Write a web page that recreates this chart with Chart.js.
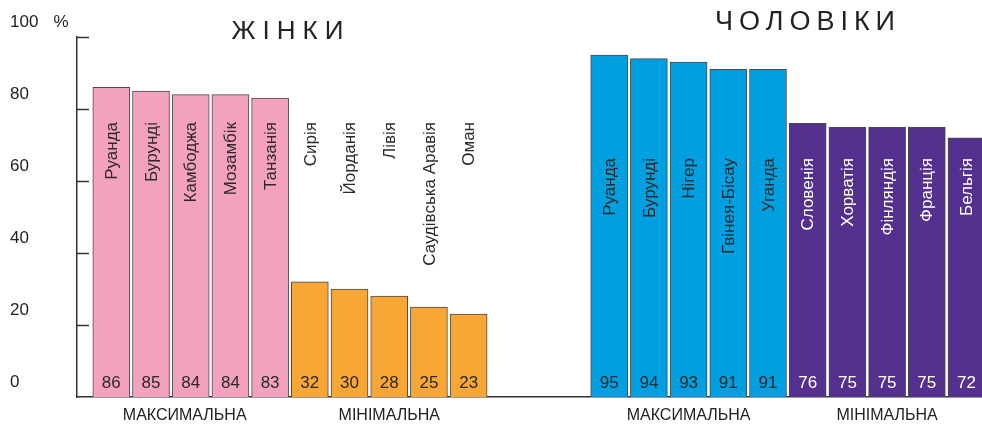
<!DOCTYPE html>
<html>
<head>
<meta charset="utf-8">
<script src="https://cdn.jsdelivr.net/npm/chart.js@4.4.1/dist/chart.umd.min.js"></script>
<style>
  body { margin: 0; background: #fff; }
  #wrap { width: 982px; height: 427px; position: relative; }
</style>
</head>
<body>
<div id="wrap"><canvas id="chart"></canvas></div>
<script>
// data (% )
const womenMaxCountries = ["Руанда", "Бурунді", "Камбоджа", "Мозамбік", "Танзанія"];
const womenMaxValues = [86, 85, 84, 84, 83];
const womenMinCountries = ["Сирія", "Йорданія", "Лівія", "Саудівська Аравія", "Оман"];
const womenMinValues = [32, 30, 28, 25, 23];
const menMaxCountries = ["Руанда", "Бурунді", "Нігер", "Гвінея-Бісау", "Уганда"];
const menMaxValues = [95, 94, 93, 91, 91];
const menMinCountries = ["Словенія", "Хорватія", "Фінляндія", "Франція", "Бельгія"];
const menMinValues = [76, 75, 75, 75, 72];
const yTickValues = [0, 20, 40, 60, 80, 100];
const groupLabels = ["МАКСИМАЛЬНА", "МІНІМАЛЬНА"];
const sexTitles = ["ЖІНКИ", "ЧОЛОВІКИ"];

const FONT = "'Liberation Sans', Arial, sans-serif";
const MEN_START = 12.54; // slot where men's bars begin

function points(values, start) {
    return values.map((v, i) => ({ x: start + i, y: v }));
}

const datasets = [
    { names: womenMaxCountries, data: points(womenMaxValues, 0), backgroundColor: "#f4a1bf", textColor: "#2a2a2a" },
    { names: womenMinCountries, data: points(womenMinValues, 5), backgroundColor: "#f8a636", textColor: "#2a2a2a" },
    { names: menMaxCountries, data: points(menMaxValues, MEN_START), backgroundColor: "#009fdf", textColor: "#2a2a2a" },
    { names: menMinCountries, data: points(menMinValues, MEN_START + 5), backgroundColor: "#54318f", textColor: "#ffffff" },
].map((d) => ({ ...d, borderColor: "#4a4a4a", borderWidth: 1, barThickness: 37, grouped: false }));

const labelsPlugin = {
    id: "labels",
    afterDraw(chart) {
        const ctx = chart.ctx;
        const y = chart.scales.y;
        ctx.save();

        // inward tick marks on the y axis
        ctx.strokeStyle = "#333";
        ctx.lineWidth = 1.5;
        yTickValues.slice(1).forEach((v) => {
            const py = Math.round(y.getPixelForValue(v)) + 0.5;
            ctx.beginPath();
            ctx.moveTo(chart.chartArea.left, py);
            ctx.lineTo(chart.chartArea.left + 12, py);
            ctx.stroke();
        });

        ctx.fillStyle = "#222";
        ctx.font = "17px " + FONT;
        ctx.textAlign = "center";
        ctx.textBaseline = "middle";
        ctx.fillText("%", 61, 22);

        // titles
        ctx.font = "26px " + FONT;
        ctx.letterSpacing = "7px";
        ctx.fillText(sexTitles[0], 291, 32);
        ctx.font = "27px " + FONT;
        ctx.letterSpacing = "6px";
        ctx.fillText(sexTitles[1], 808, 23);
        ctx.letterSpacing = "0px";

        // group captions under the axis
        ctx.font = "16px " + FONT;
        chart.data.datasets.forEach((ds, d) => {
            const bars = chart.getDatasetMeta(d).data;
            const cx = (bars[0].x + bars[bars.length - 1].x) / 2;
            ctx.fillStyle = "#222";
            ctx.fillText(groupLabels[d % 2], cx - (d === 0 ? 6 : 0), 416);
        });

        // names and values on the bars
        chart.data.datasets.forEach((ds, d) => {
            const bars = chart.getDatasetMeta(d).data;
            const nameTop = d < 2 ? 122 : 158;
            bars.forEach((bar, i) => {
                ctx.fillStyle = ds.textColor;
                ctx.font = "17px " + FONT;
                ctx.textAlign = "center";
                ctx.fillText(String(ds.data[i].y), bar.x, 383);

                ctx.save();
                ctx.translate(bar.x + 1, nameTop);
                ctx.rotate(-Math.PI / 2);
                ctx.textAlign = "right";
                ctx.fillText(ds.names[i], 0, 0);
                ctx.restore();
            });
        });
        ctx.restore();
    },
};

new Chart(document.getElementById("chart"), {
    type: "bar",
    data: { datasets },
    options: {
        responsive: true,
        maintainAspectRatio: false,
        animation: false,
        layout: { padding: { left: 10, top: 37, right: 0, bottom: 0 } },
        plugins: { legend: { display: false }, tooltip: { enabled: false } },
        scales: {
            x: {
                type: "linear",
                offset: false,
                bounds: "data",
                min: -0.864,
                max: 21.93,
                grid: { display: false },
                ticks: { display: false },
                border: { display: true, color: "#333", width: 1.5 },
                afterFit: (scale) => { scale.height = 30; },
            },
            y: {
                min: 0,
                max: 100,
                afterBuildTicks: (scale) => { scale.ticks = yTickValues.map((v) => ({ value: v })); },
                grid: { display: false },
                border: { display: true, color: "#333", width: 1.5 },
                ticks: {
                    crossAlign: "far",
                    labelOffset: -15,
                    color: "#222",
                    font: { size: 17, family: FONT },
                },
                afterFit: (scale) => { scale.width = 67; },
            },
        },
    },
    plugins: [labelsPlugin],
});
</script>
</body>
</html>
